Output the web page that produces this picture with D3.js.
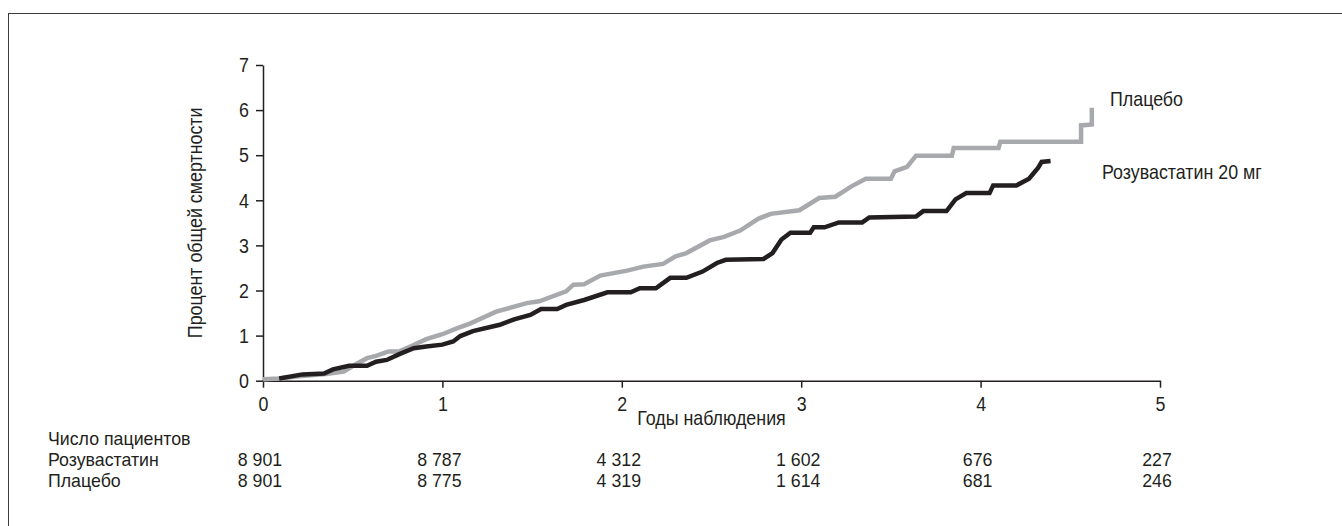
<!DOCTYPE html>
<html>
<head>
<meta charset="utf-8">
<script src="https://cdn.jsdelivr.net/npm/d3@7"></script>
<style>
  body { margin: 0; background: #fff; }
  svg text {
    font-family: "Liberation Sans", Arial, sans-serif;
    fill: #231f20;
    transform-box: fill-box;
    transform: scaleX(0.85);
  }
  /* keep each label anchored where it is placed while narrowing it */
  svg text.s { transform-origin: 0% 50%; }
  svg text.m { transform-origin: 50% 50%; }
  svg text.e { transform-origin: 100% 50%; }
  svg text.tbl { transform: scaleX(0.96); }
</style>
</head>
<body>
<div id="chart"></div>
<script>
// Kaplan-Meier style curves (years, % mortality)
const placebo = [
  [0, 0.03], [0.09, 0.05], [0.2, 0.1], [0.35, 0.15], [0.45, 0.2], [0.52, 0.37], [0.58, 0.5],
  [0.63, 0.55], [0.7, 0.65], [0.76, 0.65], [0.84, 0.79], [0.91, 0.92], [1.0, 1.03], [1.08, 1.16],
  [1.15, 1.26], [1.3, 1.53], [1.47, 1.72], [1.54, 1.76], [1.69, 1.98], [1.73, 2.13], [1.79, 2.14],
  [1.88, 2.33], [2.03, 2.44], [2.12, 2.53], [2.23, 2.59], [2.3, 2.76], [2.36, 2.83], [2.49, 3.11],
  [2.57, 3.19], [2.66, 3.33], [2.76, 3.59], [2.83, 3.7], [2.99, 3.78], [3.1, 4.05], [3.19, 4.08],
  [3.28, 4.31], [3.36, 4.48], [3.5, 4.48], [3.52, 4.64], [3.59, 4.74], [3.64, 4.99], [3.84, 4.99],
  [3.85, 5.16], [4.1, 5.16], [4.11, 5.3], [4.56, 5.3], [4.56, 5.66], [4.62, 5.68], [4.62, 6.05]
];
const rosuva = [
  [0.09, 0.05], [0.22, 0.14], [0.34, 0.16], [0.39, 0.25], [0.48, 0.33], [0.58, 0.33], [0.63, 0.42],
  [0.69, 0.46], [0.76, 0.59], [0.84, 0.72], [0.91, 0.76], [1.0, 0.8], [1.06, 0.87], [1.1, 0.99],
  [1.17, 1.1], [1.32, 1.24], [1.4, 1.36], [1.49, 1.46], [1.55, 1.59], [1.64, 1.59], [1.69, 1.68],
  [1.79, 1.79], [1.92, 1.96], [2.05, 1.96], [2.1, 2.05], [2.19, 2.05], [2.27, 2.28], [2.36, 2.28],
  [2.45, 2.42], [2.53, 2.61], [2.58, 2.68], [2.79, 2.7], [2.84, 2.83], [2.89, 3.13], [2.94, 3.28],
  [3.05, 3.28], [3.07, 3.4], [3.13, 3.4], [3.21, 3.51], [3.34, 3.51], [3.38, 3.62], [3.64, 3.64],
  [3.68, 3.76], [3.81, 3.76], [3.86, 4.02], [3.92, 4.16], [4.05, 4.16], [4.07, 4.33], [4.2, 4.33],
  [4.27, 4.48], [4.32, 4.72], [4.34, 4.85], [4.39, 4.87]
];

const xTicks = [0, 1, 2, 3, 4, 5];
const yTicks = [0, 1, 2, 3, 4, 5, 6, 7];
const atRiskRosuva = ["8 901", "8 787", "4 312", "1 602", "676", "227"];
const atRiskPlacebo = ["8 901", "8 775", "4 319", "1 614", "681", "246"];

const width = 1342, height = 526;
const fs = 21;
const fsTable = 18.5;

const svg = d3.select("#chart").append("svg")
  .attr("width", width)
  .attr("height", height);

// frame (runs off the right and bottom edges)
svg.append("rect")
  .attr("x", 8.5).attr("y", 13.5)
  .attr("width", 1400).attr("height", 600)
  .attr("fill", "none").attr("stroke", "#3a3a3a").attr("stroke-width", 1);

const x = d3.scaleLinear().domain([0, 5]).range([263, 1160]);
const y = d3.scaleLinear().domain([0, 7]).range([380.7, 65]);

// axes
const xAxis = svg.append("g")
  .attr("transform", `translate(0,${y(0)})`)
  .call(d3.axisBottom(x).tickValues(xTicks).tickFormat(d3.format("d"))
    .tickSizeInner(7).tickSizeOuter(0).tickPadding(8));
const yAxis = svg.append("g")
  .attr("transform", `translate(${x(0)},0)`)
  .call(d3.axisLeft(y).tickValues(yTicks).tickFormat(d3.format("d"))
    .tickSizeInner(7).tickSizeOuter(0).tickPadding(7));

[xAxis, yAxis].forEach(g => {
  g.select(".domain").attr("stroke", "#231f20").attr("stroke-width", 1.5);
  g.selectAll(".tick line").attr("stroke", "#231f20").attr("stroke-width", 1.5);
  g.selectAll(".tick text").attr("font-size", fs);
});
xAxis.selectAll(".tick text").attr("class", "m");
yAxis.selectAll(".tick text").attr("class", "e");

// curves
const line = d3.line()
  .x(d => x(d[0]))
  .y(d => y(d[1]));

svg.append("path")
  .datum(placebo)
  .attr("d", line)
  .attr("fill", "none")
  .attr("stroke", "#a7a9ac")
  .attr("stroke-width", 4.5)
  .attr("stroke-linejoin", "miter");

svg.append("path")
  .datum(rosuva)
  .attr("d", line)
  .attr("fill", "none")
  .attr("stroke", "#231f20")
  .attr("stroke-width", 4.5)
  .attr("stroke-linejoin", "miter");

// series labels
svg.append("text").attr("class", "s")
  .attr("x", 1110).attr("y", 106)
  .attr("font-size", fs)
  .text("Плацебо");
svg.append("text").attr("class", "s")
  .attr("x", 1102).attr("y", 179)
  .attr("font-size", fs)
  .text("Розувастатин 20 мг");

// axis titles
svg.append("text").attr("class", "m")
  .attr("x", x(2.5)).attr("y", 425)
  .attr("text-anchor", "middle")
  .attr("font-size", fs)
  .text("Годы наблюдения");
svg.append("g")
  .attr("transform", `translate(202,${y(3.5)}) rotate(-90)`)
  .append("text").attr("class", "m")
  .attr("text-anchor", "middle")
  .attr("font-size", fs)
  .text("Процент общей смертности");

// numbers at risk
const rows = [
  { label: "Розувастатин", values: atRiskRosuva, y: 466 },
  { label: "Плацебо", values: atRiskPlacebo, y: 487 }
];
svg.append("text").attr("class", "s tbl")
  .attr("x", 48).attr("y", 445)
  .attr("font-size", fsTable)
  .text("Число пациентов");

rows.forEach(r => {
  svg.append("text").attr("class", "s tbl")
    .attr("x", 48).attr("y", r.y)
    .attr("font-size", fsTable)
    .text(r.label);
  svg.selectAll(null)
    .data(r.values)
    .enter().append("text").attr("class", "m tbl")
    .attr("x", (d, i) => x(xTicks[i]) - 3)
    .attr("y", r.y)
    .attr("text-anchor", "middle")
    .attr("font-size", fsTable)
    .text(d => d);
});
</script>
</body>
</html>
